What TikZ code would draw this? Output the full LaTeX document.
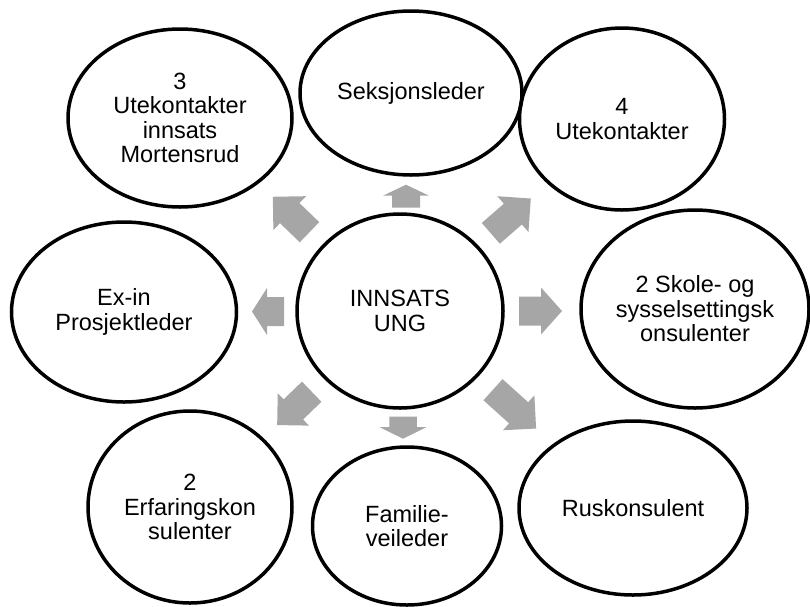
\documentclass[tikz,border=0pt]{standalone}
\usepackage{fontspec}
\setmainfont{Liberation Sans}
\usepackage{tikz}
\usetikzlibrary{shapes.geometric}

\definecolor{arrowgray}{HTML}{A6A6A6}
\tikzset{
	unit/.style={ellipse,draw=black,line width=3.5pt,inner sep=0pt,align=center,
		font=\fontsize{23.5}{24.5}\selectfont},
}

\begin{document}
\begin{tikzpicture}[x=1pt,y=-1pt]
		\useasboundingbox (0,0) rectangle (810,606);
		% outer ring
		\node[unit,minimum width=224pt,minimum height=178pt] (mortensrud) at (180,118) {3\\Utekontakter\\innsats\\Mortensrud};
		\node[unit,minimum width=222pt,minimum height=164pt] (seksjon) at (411,93) {Seksjonsleder};
		\node[unit,minimum width=205pt,minimum height=182pt] (ute) at (622,119) {4\\Utekontakter};
		\node[unit,minimum width=225pt,minimum height=180pt] (exin) at (124,312) {Ex-in\\Prosjektleder};
		\node[unit,minimum width=228pt,minimum height=198pt] (skole) at (695,309) {2 Skole- og\\sysselsettingsk\\onsulenter};
		\node[unit,minimum width=204pt,minimum height=192pt] (erfaring) at (190,507) {2\\Erfaringskon\\sulenter};
		\node[unit,minimum width=189pt,minimum height=158pt] (familie) at (407,526) {Familie-\\veileder};
		\node[unit,minimum width=228pt,minimum height=174pt] (rus) at (633,508) {Ruskonsulent};
		% centre
		\node[unit,minimum width=206pt,minimum height=194pt] (innsats) at (400,311) {INNSATS\\UNG};
		% block arrows: base x/base y/angle/length/shaft/head width/head length
		\foreach \bx/\by/\a/\l/\s/\w/\h in {406/207.7/90/23/28/46/11, 490.8/233.3/41/53/27.5/47.5/23.75,
			519/311/0/43/29/47/21, 493/389.7/-42/58/28.5/47/23.5, 403/416.7/-90/22/27.5/46.5/11.5,
			311.7/391.7/224/48/28/45/22.5, 284/311.5/180/32/29/47/15, 309.5/232.2/136/51/28/47/23.5}{
		\begin{scope}[shift={(\bx,\by)},rotate=\a]
		\fill[arrowgray] (0,{-\s/2}) -- ({\l-\h},{-\s/2}) -- ({\l-\h},{-\w/2}) -- (\l,0)
			-- ({\l-\h},{\w/2}) -- ({\l-\h},{\s/2}) -- (0,{\s/2}) -- cycle;
		\end{scope}
		}
	       \end{tikzpicture}
\end{document}
